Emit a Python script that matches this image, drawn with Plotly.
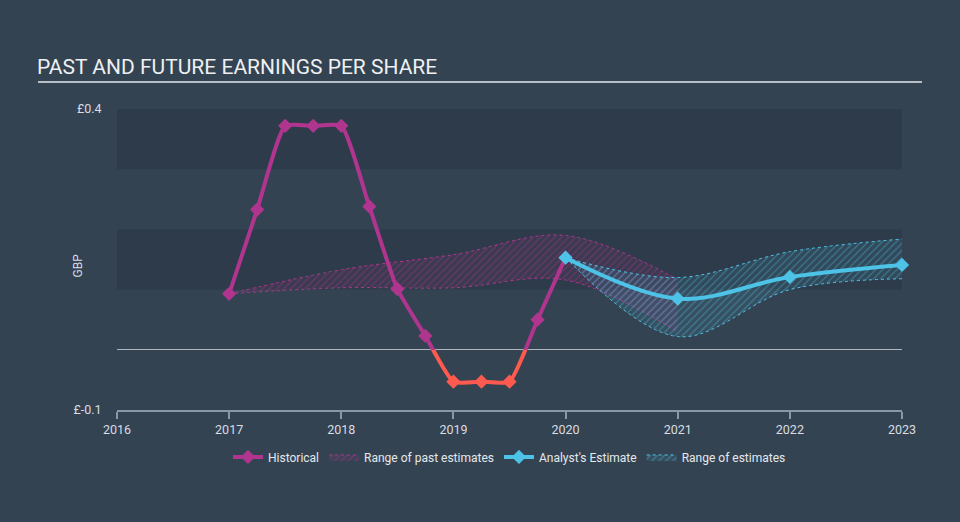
import plotly.graph_objects as go

# ---- data ----
hist_x = [2017.0, 2017.25, 2017.5, 2017.75, 2018.0, 2018.25, 2018.5, 2018.75,
          2019.0, 2019.25, 2019.5, 2019.75, 2020.0]
hist_y = [0.093, 0.233, 0.372, 0.372, 0.372, 0.238, 0.101, 0.023,
          -0.053, -0.053, -0.053, 0.050, 0.153]

past_x = [2017, 2018, 2019, 2020, 2021]
past_upper = [0.093, 0.133, 0.158, 0.190, 0.117]
past_lower = [0.093, 0.103, 0.103, 0.116, 0.030]

est_x = [2020, 2021, 2022, 2023]
est_y = [0.153, 0.085, 0.121, 0.141]
est_upper = [0.153, 0.120, 0.163, 0.184]
est_lower = [0.153, 0.022, 0.100, 0.118]

year_ticks = [2016, 2017, 2018, 2019, 2020, 2021, 2022, 2023]
y_ticks = [-0.1, 0.4]
y_tick_text = ["£-0.1", "£0.4"]

# ---- style ----
BG = "#344352"
BAND = "#2e3b4a"
MAG = "#b0358e"
RED = "#ff5a4f"
CYAN = "#4dc3e8"
TXT = "#d8dde2"
FONT = "Roboto"

fig = go.Figure()

# past estimate range
fig.add_trace(go.Scatter(x=past_x, y=past_lower, mode="lines",
                         line=dict(color=MAG, width=1, dash="dot", shape="spline", smoothing=1),
                         showlegend=False, hoverinfo="skip"))
fig.add_trace(go.Scatter(x=past_x, y=past_upper, mode="lines", name="Range of past estimates",
                         line=dict(color=MAG, width=1, dash="dot", shape="spline", smoothing=1),
                         fill="tonexty", fillcolor="rgba(176,53,142,0.12)",
                         fillpattern=dict(shape="/", fgcolor="rgba(176,53,142,0.75)",
                                          bgcolor="rgba(176,53,142,0.10)", size=5, solidity=0.25),
                         hoverinfo="skip"))

# estimate range
fig.add_trace(go.Scatter(x=est_x, y=est_lower, mode="lines",
                         line=dict(color=CYAN, width=1, dash="dot", shape="spline", smoothing=1),
                         showlegend=False, hoverinfo="skip"))
fig.add_trace(go.Scatter(x=est_x, y=est_upper, mode="lines", name="Range of estimates",
                         line=dict(color=CYAN, width=1, dash="dot", shape="spline", smoothing=1),
                         fill="tonexty", fillcolor="rgba(77,195,232,0.12)",
                         fillpattern=dict(shape="/", fgcolor="rgba(77,195,232,0.75)",
                                          bgcolor="rgba(77,195,232,0.10)", size=5, solidity=0.25),
                         hoverinfo="skip"))

# historical
fig.add_trace(go.Scatter(x=hist_x, y=hist_y, mode="lines+markers", name="Historical",
                         line=dict(color=MAG, width=4, shape="spline", smoothing=0.5),
                         marker=dict(symbol="diamond", size=11, color=MAG)))
# negative part in red, clipped by a sub-axis spanning only y<0
fig.add_trace(go.Scatter(x=hist_x, y=hist_y, mode="lines+markers", yaxis="y2",
                         line=dict(color=RED, width=4, shape="spline", smoothing=0.5),
                         marker=dict(symbol="diamond", size=11, color=RED),
                         showlegend=False, hoverinfo="skip"))

# analyst estimate
fig.add_trace(go.Scatter(x=est_x, y=est_y, mode="lines+markers", name="Analyst's Estimate",
                         line=dict(color=CYAN, width=4, shape="spline", smoothing=1),
                         marker=dict(symbol="diamond", size=11, color=CYAN),
                         cliponaxis=False))

shapes = []
for lo, hi in [(0.3, 0.4), (0.1, 0.2), (-0.1, 0.0)]:
    shapes.append(dict(type="rect", xref="paper", yref="y", x0=0, x1=1, y0=lo, y1=hi,
                       fillcolor=BAND, line=dict(width=0), layer="below"))
# title underline
shapes.append(dict(type="line", xref="paper", yref="paper", x0=-0.1006, x1=1.0255,
                   y0=1.0897, y1=1.0897, line=dict(color="#b8bec5", width=2)))

fig.update_layout(
    width=960, height=522,
    margin=dict(l=117, r=58, t=109, b=112),
    paper_bgcolor=BG, plot_bgcolor=BG,
    font=dict(family=FONT, color=TXT, size=12),
    shapes=shapes,
    showlegend=True,
    legend=dict(orientation="h", x=0.5, xanchor="center", y=-0.156, yanchor="middle",
                font=dict(size=12, color="#e4e8ec", family=FONT), bgcolor="rgba(0,0,0,0)",
                traceorder="normal", itemwidth=30),
    annotations=[
        dict(text="PAST AND FUTURE EARNINGS PER SHARE", xref="paper", yref="paper",
             x=-0.1045, y=1.138, xanchor="left", yanchor="middle", showarrow=False,
             font=dict(size=21, color="#eef0f2", family=FONT)),
        dict(text="GBP", xref="paper", yref="paper", x=-0.0497, y=0.48, textangle=-90,
             xanchor="center", yanchor="middle", showarrow=False,
             font=dict(size=12, color=TXT, family=FONT)),
    ],
    xaxis=dict(range=[2016, 2023], tickvals=year_ticks, ticktext=[str(v) for v in year_ticks],
               showgrid=False, zeroline=False, showline=True, linecolor="#8a97a5", linewidth=1.5,
               ticks="outside", ticklen=7, tickcolor="#8a97a5", tickwidth=1.5,
               tickfont=dict(size=12.5, color=TXT)),
    yaxis=dict(range=[-0.1, 0.4], tickvals=y_ticks, ticktext=y_tick_text, showgrid=False,
               zeroline=True, zerolinecolor="#d0d4d8", zerolinewidth=1.5, showline=False,
               ticks="outside", ticklen=12, tickcolor="rgba(0,0,0,0)",
               tickfont=dict(size=12.5, color=TXT)),
    yaxis2=dict(domain=[0, 0.2], range=[-0.1, 0.0], anchor="x", visible=False,
                showgrid=False, zeroline=False),
)

# legend order: Historical, Range of past, Analyst's Estimate, Range of estimates
fig.data[4].legendrank = 1
fig.data[1].legendrank = 2
fig.data[6].legendrank = 3
fig.data[3].legendrank = 4

fig.write_html(
    "out.html",
    config={"displayModeBar": False},
    post_script="document.body.style.margin='0';document.body.style.background='%s';"
                "document.body.style.overflow='hidden';" % BG,
)
